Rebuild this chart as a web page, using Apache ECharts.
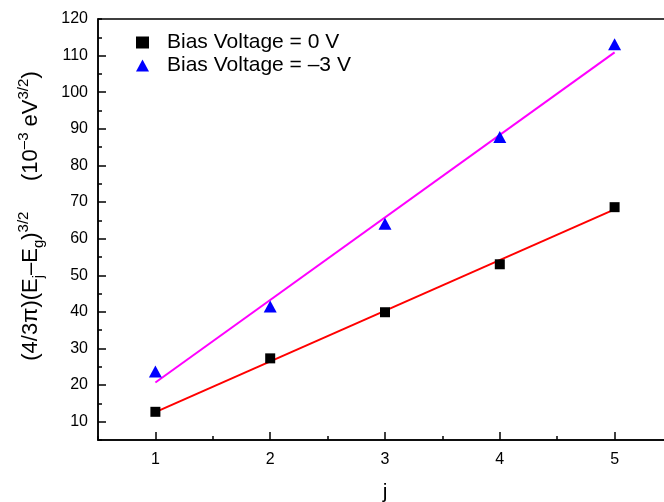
<!DOCTYPE html>
<html>
<head>
<meta charset="utf-8">
<script src="https://cdn.jsdelivr.net/npm/echarts@6/dist/echarts.min.js"></script>
<style>html,body{margin:0;padding:0;background:#fff}#c{width:664px;height:502px}</style>
</head>
<body>
<div id="c"></div>
<script>
const xValues = [1, 2, 3, 4, 5];
const bias0 = [12.7, 27.3, 39.9, 53.0, 68.6];
const biasM3 = [23.7, 41.5, 64.1, 87.8, 113.1];
const fitX = [1, 5];
const fit0 = [12.6, 68.0];
const fitM3 = [20.7, 110.9];
const xTickLabels = [1, 2, 3, 4, 5];
const yTickLabels = [10, 20, 30, 40, 50, 60, 70, 80, 90, 100, 110, 120];
const seriesNames = ['Bias Voltage = 0 V', 'Bias Voltage = \u20133 V'];

const FONT = 'Liberation Sans, Arial, sans-serif';
const chart = echarts.init(document.getElementById('c'), null, {renderer: 'canvas'});
const pairs = (xs, ys) => xs.map((x, i) => [x, ys[i]]);

chart.setOption({
  animation: false,
  backgroundColor: '#fff',
  textStyle: {fontFamily: FONT},
  grid: {left: 98, top: 19, right: -8, bottom: 62, outerBoundsMode: 'none', containLabel: false,
         show: true, borderColor: '#000', borderWidth: 1.5, backgroundColor: 'transparent'},
  xAxis: {
    type: 'value', min: 0.5, max: 5.5, interval: 1,
    axisLine: {lineStyle: {color: '#000', width: 1.5}},
    axisTick: {inside: true, length: 4, lineStyle: {color: '#000', width: 1.5}},
    minorTick: {show: true, splitNumber: 2, length: 8, lineStyle: {color: '#000', width: 1.5}},
    axisLabel: {customValues: xTickLabels, color: '#000', fontSize: 16, margin: 12, fontFamily: FONT},
    splitLine: {show: false},
    name: 'j', nameLocation: 'middle', nameGap: 42,
    nameTextStyle: {fontSize: 21, color: '#000', fontFamily: FONT}
  },
  yAxis: {
    type: 'value', min: 5, max: 120, interval: 10,
    axisLine: {lineStyle: {color: '#000', width: 1.5}},
    axisTick: {inside: true, length: 4, lineStyle: {color: '#000', width: 1.5}},
    minorTick: {show: true, splitNumber: 2, length: 8, lineStyle: {color: '#000', width: 1.5}},
    axisLabel: {customValues: yTickLabels, color: '#000', fontSize: 16, margin: 10, fontFamily: FONT},
    splitLine: {show: false}
  },
  legend: {
    orient: 'vertical', left: 131, top: 26, itemWidth: 13, itemHeight: 12, itemGap: 0,
    data: seriesNames,
    textStyle: {fontSize: 21, color: '#000', lineHeight: 23, padding: [0, 0, 0, 13], fontFamily: FONT}
  },
  graphic: [{
    type: 'text', x: 31, y: 216, rotation: Math.PI / 2,
    style: {
      text: '(4/3\u03c0)(E{sub|j}\u2013E{sub|g}){sup|3/2}     (10{sup|\u20133} eV{sup|3/2})',
      fontSize: 22, fontFamily: FONT, fill: '#000', lineHeight: 30,
      align: 'center', verticalAlign: 'middle',
      rich: {
        sub: {fontSize: 15, lineHeight: 16, verticalAlign: 'bottom', fontFamily: FONT},
        sup: {fontSize: 15, lineHeight: 10, verticalAlign: 'top', fontFamily: FONT}
      }
    }
  }],
  series: [
    {type: 'line', data: pairs(fitX, fit0), symbol: 'none', lineStyle: {color: '#ff0000', width: 2}, z: 2, silent: true},
    {type: 'line', data: pairs(fitX, fitM3), symbol: 'none', lineStyle: {color: '#ff00ff', width: 2}, z: 2, silent: true},
    {name: seriesNames[0], type: 'scatter', data: pairs(xValues, bias0), symbol: 'rect', symbolSize: 10, itemStyle: {color: '#000', opacity: 1}, z: 3},
    {name: seriesNames[1], type: 'scatter', data: pairs(xValues, biasM3), symbol: 'triangle', symbolSize: [13, 12], itemStyle: {color: '#0000ff', opacity: 1}, z: 3}
  ]
});
</script>
</body>
</html>
